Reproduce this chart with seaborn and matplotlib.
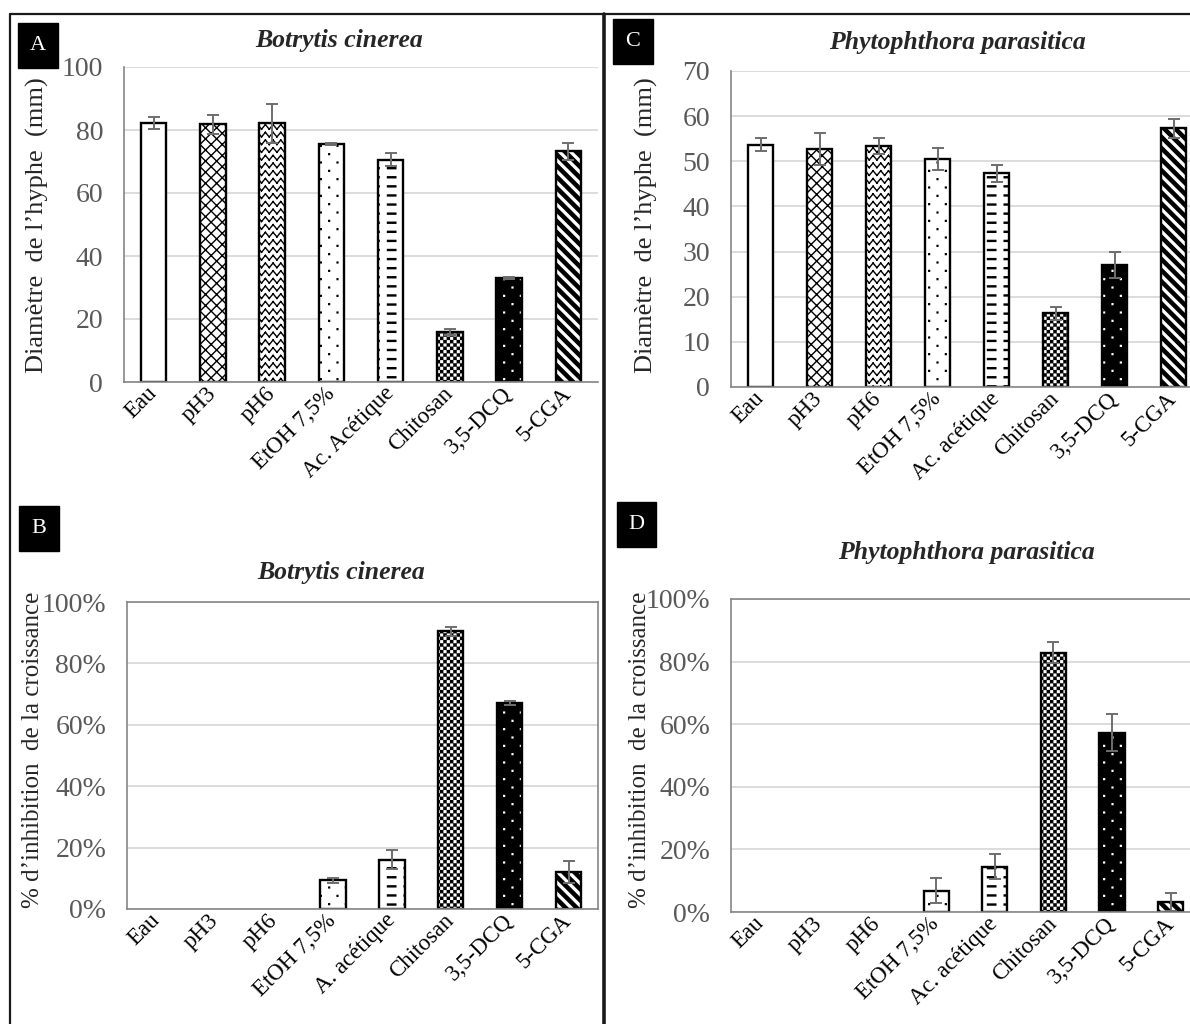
import numpy as np
import matplotlib
matplotlib.use('Agg')
import matplotlib.pyplot as plt
import seaborn as sns
from matplotlib import hatch as mhatch
from matplotlib.path import Path
from matplotlib.lines import Line2D
from matplotlib.patches import Rectangle
from matplotlib.ticker import MultipleLocator, PercentFormatter

# Données
treatments_a = ['Eau', 'pH3', 'pH6', 'EtOH 7,5%', 'Ac. Acétique', 'Chitosan', '3,5-DCQ', '5-CGA']
treatments_b = ['Eau', 'pH3', 'pH6', 'EtOH 7,5%', 'A. acétique', 'Chitosan', '3,5-DCQ', '5-CGA']
treatments_c = ['Eau', 'pH3', 'pH6', 'EtOH 7,5%', 'Ac. acétique', 'Chitosan', '3,5-DCQ', '5-CGA']
treatments_d = ['Eau', 'pH3', 'pH6', 'EtOH 7,5%', 'Ac. acétique', 'Chitosan', '3,5-DCQ', '5-CGA']

diam_botrytis = [82.2, 81.8, 82.2, 75.6, 70.6, 15.8, 33.0, 73.2]
diam_botrytis_err = [2.0, 3.0, 6.2, 0.3, 2.0, 0.9, 0.4, 2.6]
diam_phyto = [53.7, 52.7, 53.4, 50.5, 47.3, 16.3, 27.0, 57.3]
diam_phyto_err = [1.5, 3.5, 1.8, 2.5, 1.8, 1.5, 2.8, 2.1]

inhib_botrytis = [0, 0, 0, 9.4, 16.1, 90.4, 67.1, 12.0]
inhib_botrytis_err = [0, 0, 0, 0.8, 3.1, 1.5, 0.5, 3.5]
inhib_phyto = [0, 0, 0, 6.8, 14.4, 82.9, 57.3, 3.2]
inhib_phyto_err = [0, 0, 0, 4.0, 4.0, 3.4, 6.0, 3.0]

sns.set_theme(style='white')
plt.rcParams['font.family'] = ['Liberation Serif', 'DejaVu Serif']
plt.rcParams['hatch.linewidth'] = 1.0


# Motifs de hachures façon Excel (zigzag, damier, tirets...)
def seg(x0, y0, x1, y1):
    return np.array([[x0, y0], [x1, y1]]), [Path.MOVETO, Path.LINETO]


def box(x0, y0, x1, y1):
    v = np.array([[x0, y0], [x1, y0], [x1, y1], [x0, y1], [x0, y0]])
    return v, [Path.MOVETO, Path.LINETO, Path.LINETO, Path.LINETO, Path.CLOSEPOLY]


def cross(n):
    out = []
    for k in range(2 * n + 1):
        x = k / n - 1
        out.append(seg(x, 0, x + 1, 1))
        out.append(seg(x + 1, 0, x, 1))
    return out


def zigzag(n, amp=0.3):
    out = []
    for i in range(n):
        y = (i + 0.5) / n
        for k in range(2 * n):
            a = amp / n if k % 2 == 0 else -amp / n
            out.append(seg(k / (2 * n), y - a, (k + 1) / (2 * n), y + a))
    return out


def dots(nr, nc, s=0.004):
    out = []
    for i in range(nr):
        off = 0.5 / nc if i % 2 else 0
        for j in range(nc):
            x = j / nc + off + 0.25 / nc
            y = (i + 0.5) / nr
            out.append(box(x - s, y - s, x + s, y + s))
    return out


def dashes(nr, nc, length=0.5, h=0.005):
    out = []
    for i in range(nr):
        y = (i + 0.5) / nr
        for j in range(nc):
            x0 = (j + 0.25) / nc
            out.append(box(x0, y - h, x0 + length / nc, y + h))
    return out


def checker(n, inset=0.006):
    out = []
    for i in range(n):
        for j in range(n):
            if (i + j) % 2 == 0:
                out.append(box(i / n + inset, j / n + inset, (i + 1) / n - inset, (j + 1) / n - inset))
    return out


def stripes(n, w=0.4):
    out = []
    for k in range(-n, n + 1):
        x = k / n
        v = np.array([[x, 1], [x + w / n, 1], [x + w / n + 1, 0], [x + 1, 0], [x, 1]])
        out.append((v, [Path.MOVETO, Path.LINETO, Path.LINETO, Path.LINETO, Path.CLOSEPOLY]))
    return out


PATTERNS = {
    'k': cross(9),
    'z': zigzag(13),
    'p': dots(12, 6),
    'd': dashes(11, 6),
    'c': checker(30),
    's': stripes(9),
}


class ExcelHatch(mhatch.HatchPatternBase):
    def __init__(self, hatch, density):
        self.parts = [p for key, group in PATTERNS.items() if key in hatch for p in group]
        self.num_vertices = sum(len(v) for v, c in self.parts)

    def set_vertices_and_codes(self, vertices, codes):
        i = 0
        for v, c in self.parts:
            vertices[i:i + len(v)] = v
            codes[i:i + len(v)] = c
            i += len(v)


mhatch._hatch_types.append(ExcelHatch)

BAR_HATCHES = [None, 'k', 'z', 'p', 'd', 'c', 'p', 's']
BAR_FACES = ['white', 'white', 'white', 'white', 'white', 'white', 'black', 'white']

W, H = 1190, 1024
fig = plt.figure(figsize=(W / 100, H / 100), dpi=100)


def fx(x):
    return x / W


def fy(y):
    return 1 - y / H


def draw_panel(px, cats, vals, errs, ymax, step, percent, framed,
               title, title_xy, ylabel, ylabel_xy, ylabel_size, letter, letter_px):
    l, t, r, b = px
    ax = fig.add_axes([fx(l), fy(b), (r - l) / W, (b - t) / H])
    sns.barplot(x=cats, y=vals, ax=ax, color='white', saturation=1, width=0.43,
                edgecolor='black', linewidth=1.7, errorbar=None)
    for bar, hatch, face, val in zip(ax.patches, BAR_HATCHES, BAR_FACES, vals):
        bar.set_facecolor(face)
        bar._hatch = hatch
        bar._hatch_color = (1, 1, 1, 1) if face == 'black' else (0, 0, 0, 1)
        if val == 0:
            bar.set_linewidth(0)
        bar.stale = True

    xs = np.arange(len(cats))
    vals = np.asarray(vals)
    errs = np.asarray(errs)
    has = errs > 0
    ax.errorbar(xs[has], vals[has], yerr=errs[has], fmt='none', ecolor='#6e6e6e',
                elinewidth=1.4, capsize=4, capthick=1.4, zorder=3)

    ax.set_xlim(-0.5, len(cats) - 0.5)
    ax.set_ylim(0, ymax)
    ax.yaxis.set_major_locator(MultipleLocator(step))
    if percent:
        ax.yaxis.set_major_formatter(PercentFormatter(100, decimals=0))
    ax.yaxis.grid(True, color='#d9d9d9', lw=1.3)
    ax.set_axisbelow(True)
    ax.set_xlabel('')
    ax.set_ylabel('')

    for side, sp in ax.spines.items():
        sp.set_color('#868686')
        sp.set_linewidth(1.2)
        if not framed and side in ('top', 'right'):
            sp.set_visible(False)

    ax.tick_params(axis='y', length=0, pad=15, labelsize=20, labelcolor='#595959')
    ax.tick_params(axis='x', length=0, pad=6, labelsize=16.5, labelcolor='black')
    ax.set_xticks(xs)
    ax.set_xticklabels(cats, rotation=45, ha='right', va='center', rotation_mode='anchor')

    fig.text(fx(title_xy[0]), fy(title_xy[1]), title, ha='center', va='center',
             fontsize=18.5, fontweight='bold', fontstyle='italic')
    fig.text(fx(ylabel_xy[0]), fy(ylabel_xy[1]), ylabel, ha='center', va='center',
             rotation=90, fontsize=ylabel_size)

    x0, y0, x1, y1 = letter_px
    fig.add_artist(Rectangle((fx(x0), fy(y1)), (x1 - x0) / W, (y1 - y0) / H,
                             transform=fig.transFigure, color='black'))
    fig.text(fx((x0 + x1) / 2), fy((y0 + y1) / 2), letter, ha='center', va='center',
             color='white', fontsize=16)
    return ax


draw_panel((124, 67, 598, 382), treatments_a, diam_botrytis, diam_botrytis_err, 100, 20, False, False,
           'Botrytis cinerea', (339, 40), 'Diamètre  de l’hyphe  (mm)', (37, 225), 19, 'A', (18, 23, 58, 68))
draw_panel((731, 71, 1203, 387), treatments_c, diam_phyto, diam_phyto_err, 70, 10, False, False,
           'Phytophthora parasitica', (957, 42), 'Diamètre  de l’hyphe  (mm)', (646, 225), 19, 'C', (613, 19, 653, 64))
draw_panel((127, 602, 598, 909), treatments_b, inhib_botrytis, inhib_botrytis_err, 100, 20, True, True,
           'Botrytis cinerea', (341, 572), '% d’inhibition  de la croissance', (33, 750), 18, 'B', (19, 506, 59, 551))
draw_panel((731, 599, 1200, 912), treatments_d, inhib_phyto, inhib_phyto_err, 100, 20, True, True,
           'Phytophthora parasitica', (966, 553), '% d’inhibition  de la croissance', (640, 750), 18, 'D', (617, 502, 656, 547))

# Cadre de la figure
for x0, y0, x1, y1, lw in [(10, 14, 1190, 14, 1.6), (10, 14, 10, 1024, 1.6), (604, 14, 604, 1024, 2.6)]:
    fig.add_artist(Line2D([fx(x0), fx(x1)], [fy(y0), fy(y1)], transform=fig.transFigure,
                          color='#1a1a1a', lw=lw))

fig.savefig('out.png', dpi=100)
